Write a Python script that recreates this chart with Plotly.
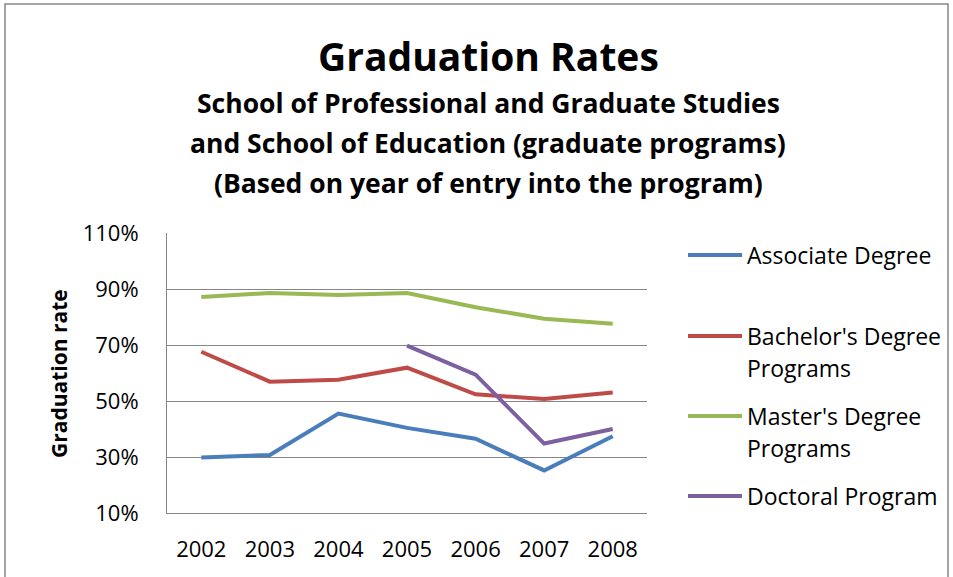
import plotly.graph_objects as go

years = ["2002", "2003", "2004", "2005", "2006", "2007", "2008"]
associate = [29.8, 30.7, 45.5, 40.4, 36.5, 25.2, 37.4]
bachelor = [67.6, 56.9, 57.6, 61.9, 52.4, 50.7, 53.0]
master = [87.1, 88.6, 87.9, 88.6, 83.5, 79.4, 77.6]
doctoral = [None, None, None, 69.8, 59.4, 34.8, 40.0]

series_names = ["Associate Degree", "Bachelor's Degree Programs",
                "Master's Degree Programs", "Doctoral Program"]
legend_lines = [["Associate Degree"], ["Bachelor's Degree", "Programs"],
                ["Master's Degree", "Programs"], ["Doctoral Program"]]
series_values = [associate, bachelor, master, doctoral]
colors = ["#4A7EBB", "#BE4B48", "#98B954", "#7D60A0"]

tick_vals = [10, 30, 50, 70, 90, 110]
tick_text = ["10%", "30%", "50%", "70%", "90%", "110%"]

title_text = "Graduation Rates"
subtitle_lines = ["School of Professional and Graduate Studies",
                  "and School of Education (graduate programs)",
                  "(Based on year of entry into the program)"]
y_title = "Graduation rate"

FONT = "Open Sans"

fig = go.Figure()
for name, vals, c in zip(series_names, series_values, colors):
    fig.add_trace(go.Scatter(
        x=years, y=vals, name=name, mode="lines",
        line=dict(color=c, width=4), showlegend=False,
    ))

L, R, T, B = 167, 306, 233, 64
W, H = 953, 577
pw, ph = W - L - R, H - T - B

def px_x(x):
    return (x - L) / pw

def px_y(y):
    return (H - B - y) / ph

annotations = [
    dict(text=f"<b>{title_text}</b>", x=px_x(488), y=px_y(55),
         font=dict(size=39, family=FONT)),
]
for i, line in enumerate(subtitle_lines):
    annotations.append(dict(text=f"<b>{line}</b>", x=px_x(488), y=px_y(103 + 40 * i),
                            font=dict(size=26.5, family=FONT)))
annotations.append(dict(text=f"<b>{y_title}</b>", x=px_x(59), y=px_y(374),
                        textangle=-90, font=dict(size=21, family=FONT)))

shapes = [
    dict(type="rect", xref="paper", yref="paper",
         x0=px_x(5), x1=px_x(948), y0=px_y(600), y1=px_y(4),
         line=dict(color="#868686", width=1.5), fillcolor="rgba(0,0,0,0)",
         layer="below"),
]

legend_y = [255, 336, 416, 496]
for lines, c, ly in zip(legend_lines, colors, legend_y):
    shapes.append(dict(type="line", xref="paper", yref="paper",
                       x0=px_x(688), x1=px_x(742), y0=px_y(ly), y1=px_y(ly),
                       line=dict(color=c, width=4)))
    for j, t in enumerate(lines):
        annotations.append(dict(text=t, x=px_x(745), y=px_y(ly + 32 * j),
                                xanchor="left", font=dict(size=23, family=FONT)))

for a in annotations:
    a.setdefault("xref", "paper")
    a.setdefault("yref", "paper")
    a.setdefault("showarrow", False)
    a.setdefault("xanchor", "center")
    a.setdefault("yanchor", "middle")

fig.update_layout(
    width=W, height=H,
    margin=dict(l=L, r=R, t=T, b=B, autoexpand=False),
    paper_bgcolor="white", plot_bgcolor="white",
    font=dict(family=FONT, color="black", size=22),
    showlegend=False,
    xaxis=dict(
        type="category", range=[-0.5, 6.5], automargin=False,
        showgrid=False, showline=True, linecolor="#868686", linewidth=1,
        ticks="", tickfont=dict(size=22), ticklabelstandoff=17,
    ),
    yaxis=dict(
        range=[10, 110], tickvals=tick_vals, ticktext=tick_text, automargin=False,
        showgrid=True, gridcolor="#868686", gridwidth=1,
        showline=True, linecolor="#868686", linewidth=1,
        ticks="", tickfont=dict(size=22), ticklabelstandoff=23,
        zeroline=False,
    ),
    annotations=annotations,
    shapes=shapes,
)

fig.write_html("out.html", config={"displayModeBar": False},
               post_script="document.body.style.margin='0';document.body.style.overflow='hidden';")
